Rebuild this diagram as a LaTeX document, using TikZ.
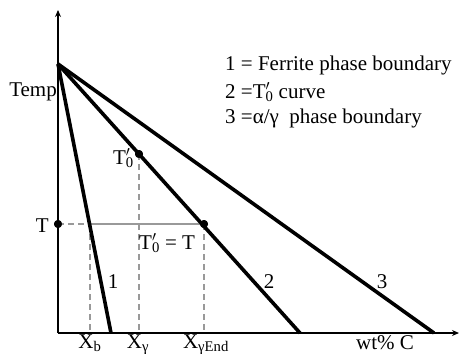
\documentclass[tikz,border=0pt]{standalone}
\usepackage{fontspec}
\setmainfont{Liberation Serif}
\usetikzlibrary{arrows.meta}
\newcommand{\Tnull}{T\rlap{\textsuperscript{$\prime$}}\textsubscript{0}}
\begin{document}
\begin{tikzpicture}[x=1pt,y=-1pt,
  thickline/.style={line width=3.6pt,black},
  axisline/.style={line width=1.6pt,black,-{Stealth[length=7pt,width=6pt]}},
  guide/.style={line width=2.6pt,gray!80,dash pattern=on 6pt off 4pt},
  lab/.style={font=\fontsize{21}{24}\selectfont,inner sep=0pt},
  dotst/.style={circle,fill=black,inner sep=0pt,minimum size=8pt}]
\useasboundingbox (0,0) rectangle (459,354);
% coordinates
\coordinate (O) at (58,333);
\coordinate (ytop) at (58,10);
\coordinate (xend) at (459,333);
\coordinate (apex) at (58,64);
\coordinate (e1) at (111,333);
\coordinate (e2) at (300,333);
\coordinate (e3) at (434,333);
\coordinate (b1) at (90,333);
\coordinate (b2) at (139,333);
\coordinate (b3) at (204,333);
\coordinate (c1) at (90,224);
% guides
\node[dotst] (T0p) at (139,154) {};
\node[dotst] (TT) at (204,224) {};
\node[dotst] (Tax) at (58,224) {};
\draw[guide] (c1) -- (b1);
\draw[guide] (T0p.center) -- (b2);
\draw[guide] (TT.center) -- (b3);
\draw[guide] (Tax.center) -- (c1);
\draw[line width=2.6pt,gray!80] (c1) -- (TT.center);
% axes
\draw[axisline] (O) -- (ytop);
\draw[axisline] (O) -- (xend);
% curves
\draw[thickline] (apex) -- (e1);
\draw[thickline] (apex) -- (e2);
\draw[thickline] (apex) -- (e3);
\fill (T0p) circle (4pt);
\fill (TT) circle (4pt);
\fill (Tax) circle (4pt);
% labels
\node[lab,anchor=base east] (ltemp) at (57,96) {Temp};
\node[lab,anchor=base east] (lT) at (49,232) {T};
\node[lab,anchor=base east] (lT0) at (134,164) {\Tnull};
\node[lab,anchor=base west] (lT0T) at (139,249) {\Tnull{} = T};
\node[lab,anchor=base] (l1) at (113,288) {1};
\node[lab,anchor=base] (l2) at (269,288) {2};
\node[lab,anchor=base] (l3) at (382,288) {3};
\node[lab,anchor=base] (xb) at (90,348) {X\textsubscript{b}};
\node[lab,anchor=base] (xg) at (138,348) {X\textsubscript{γ}};
\node[lab,anchor=base] (xge) at (206,348) {X\textsubscript{γEnd}};
\node[lab,anchor=base] (wt) at (385,349) {wt\% C};
\node[lab,anchor=base west] (leg1) at (225,70) {1 = Ferrite phase boundary};
\node[lab,anchor=base west] (leg2) at (225,98) {2 =\Tnull{} curve};
\node[lab,anchor=base west] (leg3) at (225,123) {3 =α/γ\ \ phase boundary};
\end{tikzpicture}
\end{document}
